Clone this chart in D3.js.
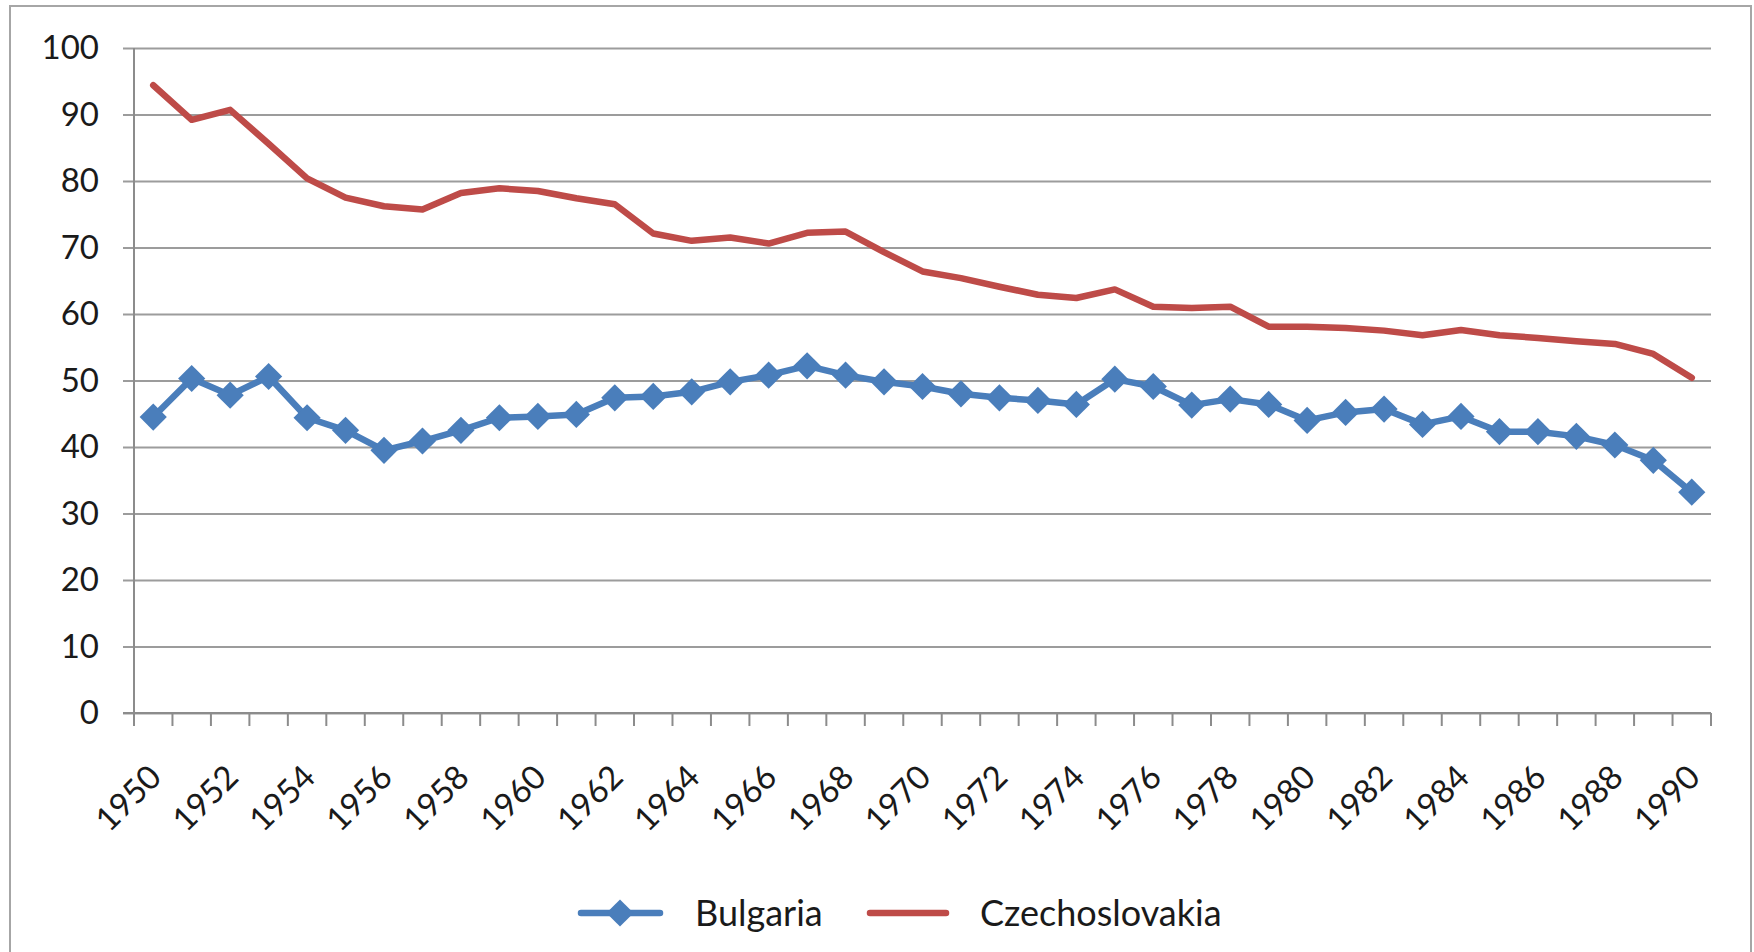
<!DOCTYPE html>
<html>
<head>
<meta charset="utf-8">
<script src="https://cdn.jsdelivr.net/npm/d3@7"></script>
<style>
  body { margin: 0; background: #fff; }
  svg { display: block; font-family: Lato, "Open Sans", sans-serif; }
</style>
</head>
<body>
<div id="chart"><svg></svg></div>
<script>
// categories and series
var years = [1950, 1951, 1952, 1953, 1954, 1955, 1956, 1957, 1958, 1959,
             1960, 1961, 1962, 1963, 1964, 1965, 1966, 1967, 1968, 1969,
             1970, 1971, 1972, 1973, 1974, 1975, 1976, 1977, 1978, 1979,
             1980, 1981, 1982, 1983, 1984, 1985, 1986, 1987, 1988, 1989, 1990];
var bulgaria = [44.5, 50.3, 47.8, 50.6, 44.4, 42.5, 39.5, 40.9, 42.5, 44.4,
                44.6, 44.9, 47.4, 47.6, 48.3, 49.8, 50.8, 52.2, 50.8, 49.8,
                49.1, 48.0, 47.4, 47.0, 46.4, 50.2, 49.1, 46.3, 47.2, 46.4,
                44.0, 45.2, 45.7, 43.4, 44.6, 42.3, 42.3, 41.6, 40.3, 38.0, 33.2];
var czechoslovakia = [94.4, 89.2, 90.7, 85.6, 80.4, 77.5, 76.2, 75.7, 78.2, 78.9,
                      78.5, 77.4, 76.5, 72.1, 71.0, 71.5, 70.6, 72.2, 72.4, 69.3,
                      66.4, 65.4, 64.1, 62.9, 62.4, 63.7, 61.1, 60.9, 61.1, 58.1,
                      58.1, 57.9, 57.5, 56.8, 57.6, 56.8, 56.4, 55.9, 55.5, 54.0, 50.4];
var yTicks = [0, 10, 20, 30, 40, 50, 60, 70, 80, 90, 100];
var xLabels = [1950, 1952, 1954, 1956, 1958, 1960, 1962, 1964, 1966, 1968, 1970,
               1972, 1974, 1976, 1978, 1980, 1982, 1984, 1986, 1988, 1990];

var width = 1754, height = 952;
var plotL = 134, plotR = 1711, plotT = 48, plotB = 713;
var blue = "#4a7ebb", red = "#be4b48", grid = "#9c9c9c", axisCol = "#8c8c8c";

var svg = d3.select("#chart").select("svg").attr("width", width).attr("height", height);

// outer chart border
svg.append("rect")
  .attr("x", 10).attr("y", 6)
  .attr("width", 1741).attr("height", 980)
  .attr("fill", "#fff").attr("stroke", "#a6a6a6").attr("stroke-width", 2);

var x = d3.scaleBand().domain(years).range([plotL, plotR]).paddingInner(0).paddingOuter(0);
var y = d3.scaleLinear().domain([0, 100]).range([plotB, plotT]);
var cx = function(yr) { return x(yr) + x.bandwidth() / 2; };

// gridlines + left ticks
var yAxis = d3.axisLeft(y).tickValues(yTicks).tickSize(11).tickPadding(24);
var gy = svg.append("g").attr("transform", "translate(" + plotL + ",0)").call(yAxis);
gy.select(".domain").remove();
gy.selectAll(".tick line").attr("stroke", grid).attr("stroke-width", 2)
  .attr("x1", plotR - plotL);
gy.selectAll(".tick text")
  .attr("font-size", 33).attr("fill", "#1a1a1a")
  .attr("font-family", "Lato, sans-serif");

// vertical axis line
svg.append("line")
  .attr("x1", plotL).attr("x2", plotL).attr("y1", y(100)).attr("y2", y(0))
  .attr("stroke", axisCol).attr("stroke-width", 2);
// horizontal axis line
svg.append("line")
  .attr("x1", plotL - 11).attr("x2", plotR).attr("y1", y(0)).attr("y2", y(0))
  .attr("stroke", axisCol).attr("stroke-width", 2);

// category boundary ticks
var bounds = years.map(function(d) { return x(d); }).concat([x.range()[1]]);
svg.append("g").selectAll("line").data(bounds).enter().append("line")
  .attr("x1", function(d) { return d; }).attr("x2", function(d) { return d; })
  .attr("y1", y(0)).attr("y2", y(0) + 13)
  .attr("stroke", axisCol).attr("stroke-width", 2);

// rotated year labels
svg.append("g").selectAll("text").data(xLabels).enter().append("text")
  .attr("transform", function(d) { return "translate(" + (cx(d) + 2) + "," + (y(0) + 58) + ") rotate(-45)"; })
  .attr("text-anchor", "end")
  .attr("dy", "0.35em")
  .attr("font-size", 33)
  .attr("fill", "#1a1a1a")
  .text(function(d) { return d; });

var line = d3.line()
  .x(function(d, i) { return cx(years[i]); })
  .y(function(d) { return y(d); });

svg.append("path").datum(czechoslovakia)
  .attr("d", line).attr("fill", "none")
  .attr("stroke", red).attr("stroke-width", 6.5)
  .attr("stroke-linejoin", "round").attr("stroke-linecap", "round");

svg.append("path").datum(bulgaria)
  .attr("d", line).attr("fill", "none")
  .attr("stroke", blue).attr("stroke-width", 6.5)
  .attr("stroke-linejoin", "round");

var diamond = d3.symbol().type(d3.symbolSquare).size(370);
svg.append("g").selectAll("path").data(bulgaria).enter().append("path")
  .attr("d", diamond)
  .attr("transform", function(d, i) { return "translate(" + cx(years[i]) + "," + y(d) + ") rotate(45)"; })
  .attr("fill", blue);

// legend
var legendY = 913;
var lg = svg.append("g");
lg.append("line").attr("x1", 581).attr("x2", 660).attr("y1", legendY).attr("y2", legendY)
  .attr("stroke", blue).attr("stroke-width", 6.5).attr("stroke-linecap", "round");
lg.append("path").attr("d", diamond)
  .attr("transform", "translate(620," + legendY + ") rotate(45)").attr("fill", blue);
lg.append("text").attr("x", 695).attr("y", legendY).attr("dy", "0.35em")
  .attr("font-size", 36).attr("fill", "#1a1a1a").text("Bulgaria");
lg.append("line").attr("x1", 870).attr("x2", 946).attr("y1", legendY).attr("y2", legendY)
  .attr("stroke", red).attr("stroke-width", 6.5).attr("stroke-linecap", "round");
lg.append("text").attr("x", 980).attr("y", legendY).attr("dy", "0.35em")
  .attr("font-size", 36).attr("fill", "#1a1a1a").text("Czechoslovakia");
</script>
</body>
</html>
